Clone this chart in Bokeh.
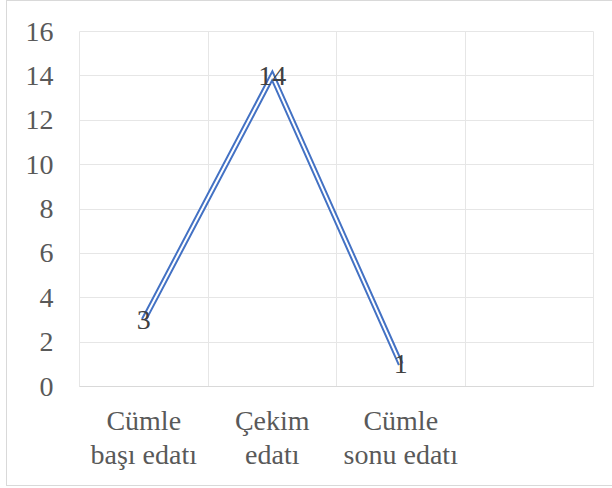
from bokeh.plotting import figure
from bokeh.models import FixedTicker, Range1d, ColumnDataSource
from bokeh.embed import file_html
from bokeh.resources import INLINE
from bokeh.core.properties import value

categories = ["Cümle\nbaşı edatı", "Çekim\nedatı", "Cümle\nsonu edatı"]
counts = [3, 14, 1]
y_ticks = [0, 2, 4, 6, 8, 10, 12, 14, 16]

xs = list(range(1, len(categories) + 1))
src = ColumnDataSource(dict(x=xs, y=counts, lbl=[str(v) for v in counts]))

W, H = 605, 484
p = figure(width=W, height=H, output_backend="svg", toolbar_location=None,
           x_range=Range1d(0.5, 4.5), y_range=Range1d(0, 16),
           min_border_left=72, min_border_right=19, min_border_top=30,
           min_border_bottom=99)
p.styles = {"position": "relative", "left": "7px", "top": "1px",
            "outline": "1px solid #d9d9d9", "outline-offset": "0px"}

font = "Liberation Serif"
p.outline_line_color = "#e6e6e6"
p.background_fill_color = "white"
p.border_fill_color = "white"

# grid
p.xgrid.ticker = FixedTicker(ticks=[0.5, 1.5, 2.5, 3.5, 4.5])
p.xgrid.grid_line_color = "#e6e6e6"
p.ygrid.ticker = FixedTicker(ticks=y_ticks)
p.ygrid.grid_line_color = "#e6e6e6"

# y axis
p.yaxis.ticker = FixedTicker(ticks=y_ticks)
p.yaxis.axis_line_color = None
p.yaxis.major_tick_line_color = None
p.yaxis.minor_tick_line_color = None
p.yaxis.major_tick_out = 0
p.yaxis.minor_tick_out = 0
p.yaxis.major_label_standoff = 26
p.yaxis.major_label_text_font = font
p.yaxis.major_label_text_font_size = "28px"
p.yaxis.major_label_text_color = "#595959"

# x axis
p.xaxis.ticker = FixedTicker(ticks=xs)
p.xaxis.major_label_overrides = {x: c for x, c in zip(xs, categories)}
p.xaxis.axis_line_color = "#d9d9d9"
p.xaxis.major_tick_line_color = None
p.xaxis.minor_tick_line_color = None
p.xaxis.major_tick_out = 0
p.xaxis.minor_tick_out = 0
p.xaxis.major_label_standoff = 18
p.xaxis.major_label_text_font = font
p.xaxis.major_label_text_font_size = "28px"
p.xaxis.major_label_text_color = "#595959"
p.xaxis.major_label_text_line_height = 1.1

# double line
p.line("x", "y", source=src, line_color="#4472C4", line_width=6,
       line_join="miter", line_cap="butt")
p.line("x", "y", source=src, line_color="white", line_width=2,
       line_join="miter", line_cap="butt")

# data labels
p.text("x", "y", text="lbl", source=src, text_align="center",
       text_baseline="middle", text_font=value(font),
       text_font_size="28px", text_color="#404040")

open("out.html", "w").write(file_html(p, INLINE))
